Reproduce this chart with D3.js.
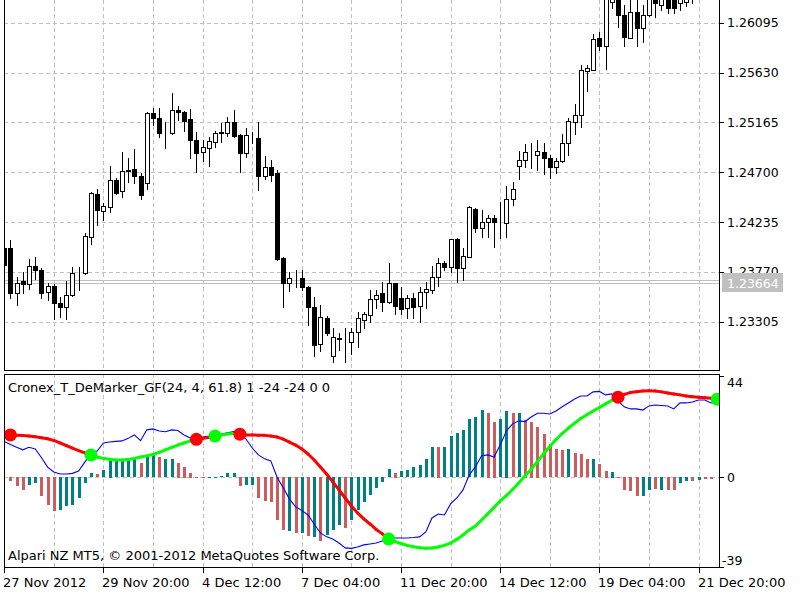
<!DOCTYPE html>
<html><head><meta charset="utf-8">
<script src="https://cdn.jsdelivr.net/npm/d3@7/dist/d3.min.js"></script>
<style>
body{margin:0;background:#fff}
svg{display:block}
text{font-family:"DejaVu Sans",sans-serif;font-size:13px;fill:#000}
text.pr{font-size:12.5px}
</style>
</head><body>
<svg id="c" width="800" height="600"></svg>
<script>
// ---------- DATA (H4 bars, first bar index = -1) ----------
const firstBar = -1;
const opens = [1.23993,1.23993,1.23573,1.23685,1.23657,1.23825,1.23787,1.23582,1.23638,1.23479,
1.23442,1.23554,1.23759,1.23762,1.24095,1.24497,1.24338,1.24375,1.24627,1.24525,
1.24711,1.24730,1.24665,1.24599,1.25252,1.25206,1.25066,1.25062,1.25280,1.25262,
1.25196,1.25000,1.24888,1.24926,1.24982,1.25066,1.25066,1.25168,1.25047,1.24879,
1.25038,1.25019,1.24665,1.24749,1.24693,1.23899,1.23666,1.23713,1.23710,1.23629,
1.23442,1.23097,1.23339,1.22985,1.23153,1.23134,1.23115,1.23209,1.23321,1.23367,
1.23517,1.23573,1.23489,1.23666,1.23526,1.23433,1.23526,1.23451,1.23582,1.23601,
1.23722,1.23853,1.23815,1.24077,1.23806,1.23909,1.24357,1.24179,1.24235,1.24273,
1.24235,1.24226,1.24450,1.24758,1.24814,1.24870,1.24860,1.24888,1.24832,1.24749,
1.24804,1.24972,1.25168,1.25234,1.25644,1.25654,1.25952,1.25878,1.26290,1.26380,
1.26167,1.25952,1.26195,1.26046,1.26167,1.26335,1.26260,1.26326,1.26326,1.26279,
1.26288,1.26330,1.26360,1.26440,1.26470];
const highs = [1.24021,1.24067,1.23722,1.23769,1.23890,1.23909,1.23806,1.23666,1.23657,1.23535,
1.23685,1.23815,1.23815,1.24133,1.24515,1.24543,1.24413,1.24758,1.24646,1.24888,
1.24832,1.24916,1.24693,1.25262,1.25299,1.25299,1.25168,1.25439,1.25318,1.25271,
1.25290,1.25075,1.25000,1.25028,1.25084,1.25159,1.25215,1.25280,1.25056,1.25112,
1.25075,1.25168,1.24851,1.24814,1.24721,1.23909,1.23769,1.23787,1.23787,1.23638,
1.23535,1.23461,1.23358,1.23246,1.23199,1.23246,1.23246,1.23395,1.23395,1.23601,
1.23601,1.23675,1.23853,1.23670,1.23629,1.23554,1.23573,1.23629,1.23675,1.23825,
1.23899,1.23871,1.24080,1.24086,1.23993,1.24385,1.24366,1.24347,1.24301,1.24301,
1.24422,1.24571,1.24609,1.24898,1.24963,1.24972,1.25000,1.24972,1.24860,1.24832,
1.25056,1.25206,1.25337,1.25700,1.25700,1.25990,1.26008,1.26400,1.26420,1.26438,
1.26260,1.26326,1.26335,1.26260,1.26400,1.26400,1.26400,1.26400,1.26382,1.26400,
1.26354,1.26420,1.26494,1.26520,1.26530];
const lows = [1.23787,1.23526,1.23461,1.23573,1.23610,1.23703,1.23526,1.23507,1.23330,1.23349,
1.23330,1.23544,1.23601,1.23750,1.24030,1.24207,1.24254,1.24329,1.24497,1.24469,
1.24609,1.24599,1.24450,1.24543,1.25140,1.25028,1.24926,1.25056,1.25187,1.25084,
1.24832,1.24702,1.24804,1.24758,1.24935,1.24982,1.25038,1.25028,1.24702,1.24842,
1.24972,1.24534,1.24637,1.24618,1.23881,1.23442,1.23591,1.23629,1.23601,1.23274,
1.22985,1.23031,1.23181,1.22929,1.23041,1.22929,1.23003,1.23069,1.23246,1.23302,
1.23433,1.23405,1.23479,1.23377,1.23377,1.23339,1.23339,1.23302,1.23433,1.23573,
1.23638,1.23787,1.23769,1.23675,1.23694,1.23905,1.24142,1.24095,1.24095,1.24002,
1.24086,1.24095,1.24394,1.24637,1.24749,1.24739,1.24721,1.24683,1.24646,1.24693,
1.24795,1.24860,1.25056,1.25122,1.25458,1.25650,1.25840,1.25663,1.26232,1.26055,
1.25878,1.25948,1.25878,1.25915,1.26160,1.26148,1.26214,1.26186,1.26186,1.26214,
1.26251,1.26279,1.26345,1.26400,1.26420];
const closes = [1.23834,1.23573,1.23666,1.23657,1.23825,1.23787,1.23573,1.23638,1.23479,1.23442,
1.23554,1.23759,1.23762,1.24105,1.24506,1.24347,1.24385,1.24627,1.24506,1.24711,
1.24721,1.24665,1.24487,1.25252,1.25206,1.25066,1.25062,1.25280,1.25262,1.25178,
1.25000,1.24879,1.24935,1.24991,1.25066,1.25075,1.25168,1.25038,1.24879,1.25047,
1.25035,1.24665,1.24749,1.24674,1.23890,1.23666,1.23713,1.23710,1.23629,1.23442,
1.23088,1.23349,1.23199,1.23162,1.23144,1.23137,1.23209,1.23339,1.23377,1.23517,
1.23554,1.23489,1.23666,1.23451,1.23423,1.23526,1.23442,1.23582,1.23610,1.23722,
1.23853,1.23815,1.24077,1.23806,1.23918,1.24375,1.24179,1.24235,1.24273,1.24235,
1.24238,1.24450,1.24543,1.24814,1.24888,1.24867,1.24898,1.24832,1.24749,1.24804,
1.24972,1.25178,1.25234,1.25654,1.25672,1.25943,1.25878,1.26330,1.26360,1.26167,
1.25962,1.26195,1.26046,1.26167,1.26344,1.26279,1.26335,1.26232,1.26232,1.26344,
1.26316,1.26360,1.26440,1.26470,1.26450];

const bid = 1.23664, ask = 1.23694;
const priceTicks = [1.26095,1.25630,1.25165,1.24700,1.24235,1.23770,1.23305];

// indicator buffers (bar 0 .. )
const histValues = [-1.9,-4.1,-5.8,-3.3,-2.6,-8.4,-12.0,-14.9,-14.2,-12.5,
-12.0,-9.1,-2.6,1.7,1.4,3.2,7.2,7.5,7.5,7.8,
7.8,6.1,8.7,9.7,8.7,7.8,7.8,6.4,4.6,2.0,
0.3,0.2,0.3,0.3,0.6,1.7,1.7,-4.1,-3.3,-3.3,
-9.1,-10.6,-11.0,-18.5,-23.2,-23.6,-24.4,-24.4,-25.8,-26.1,
-28.0,-25.2,-23.0,-20.9,-22.3,-18.7,-14.3,-10.7,-7.8,-4.9,
-2.0,3.5,2.0,2.8,3.2,4.3,5.4,7.8,13.0,13.3,
13.0,18.0,19.1,20.6,25.2,26.1,29.3,28.1,24.2,25.2,
29.0,27.8,27.8,25.0,24.2,22.0,18.8,14.5,12.2,11.9,
12.2,10.4,10.1,7.8,7.8,5.8,2.9,2.5,-0.6,-5.8,
-6.2,-8.1,-8.1,-5.5,-5.2,-5.5,-5.5,-5.8,-2.6,-1.9,
-1.6,-1.2,-0.9,-0.9];
// 1 = teal colour index, 0 = indian-red colour index
const histColorIdx = [0,0,0,1,1,0,0,0,1,1,
1,1,1,1,0,1,1,1,1,1,
1,0,1,1,0,1,1,0,0,0,
0,0,1,1,1,1,1,0,1,1,
0,0,0,0,0,1,0,1,0,1,
0,1,1,1,0,1,1,1,1,1,
1,1,0,1,1,1,1,1,1,0,
1,1,1,1,1,1,1,0,0,1,
1,0,1,0,0,0,0,0,0,0,
1,0,0,0,1,0,0,1,0,0,
0,0,1,1,0,1,0,0,1,1,
0,1,0,0];
// blue line, bars -1 .. 114
const demarkerValues = [15.5,
14.2,13.0,11.9,13.0,12.3,8.6,4.4,2.3,1.4,1.4,
1.7,2.7,6.6,10.1,11.4,14.9,15.3,15.6,15.8,16.9,
18.4,15.9,20.6,21.0,20.1,19.8,20.6,20.3,18.4,17.1,
16.2,17.5,17.9,18.4,18.8,19.3,19.8,18.4,16.6,12.7,
9.7,8.0,7.1,0.1,-4.6,-9.4,-12.9,-14.4,-16.4,-20.3,
-24.2,-25.9,-26.8,-28.6,-30.7,-30.9,-30.3,-29.4,-29.0,-28.6,
-27.7,-26.8,-26.4,-26.4,-26.4,-26.2,-25.9,-23.8,-17.7,-16.0,
-16.4,-11.6,-9.0,-5.5,1.0,4.5,9.3,9.7,8.8,14.0,
20.1,23.2,24.5,24.2,26.2,27.8,27.8,27.5,28.8,30.6,
32.3,34.0,35.3,35.3,37.1,37.3,35.8,36.2,33.2,30.6,
29.7,29.7,29.2,31.0,31.4,31.2,31.0,29.7,32.3,32.3,
32.7,33.6,33.6,32.3,32.5];
// thick signal line, bars 0 .. 114
const signalValues = [18.4,18.3,18.1,17.9,17.6,17.2,16.7,16.0,14.9,13.8,
12.7,11.6,10.6,9.7,8.8,8.2,7.8,7.5,7.5,7.7,
8.2,8.8,9.3,9.9,10.8,11.9,13.0,14.0,14.9,15.8,
16.5,16.9,17.3,17.9,18.4,18.8,19.0,18.7,18.4,18.4,
18.3,18.2,17.9,17.5,16.6,15.3,14.0,12.3,10.1,7.5,
4.5,1.4,-2.0,-5.5,-9.0,-12.5,-15.5,-18.1,-20.3,-22.7,
-24.6,-26.8,-27.9,-28.8,-29.6,-30.2,-30.6,-30.9,-30.7,-30.3,
-29.6,-28.6,-27.0,-25.1,-22.9,-21.2,-18.6,-15.9,-13.1,-10.3,
-8.0,-5.3,-2.5,0.5,3.5,6.8,10.2,13.4,16.4,19.0,
21.4,23.5,25.5,27.2,28.8,30.3,31.9,33.4,34.8,36.0,
36.8,37.2,37.5,37.6,37.5,37.1,36.6,36.2,35.8,35.3,
35.0,34.8,34.5,34.3,33.9];
// 0 = down (red), 1 = up (green), bars 0 .. 114
const signalState = [0,0,0,0,0,0,0,0,0,0,0,0,0,
1,1,1,1,1,1,1,1,1,1,1,1,1,1,1,1,1,
0,0,0,
1,1,1,1,
0,0,0,0,0,0,0,0,0,0,0,0,0,0,0,0,0,0,0,0,0,0,0,0,
1,1,1,1,1,1,1,1,1,1,1,1,1,1,1,1,1,1,1,1,1,1,1,1,1,1,1,1,1,1,1,1,1,1,1,1,1,
0,0,0,0,0,0,0,0,0,0,0,0,0,0,0,0,
1];
const indTicks = [44, 0, -39];
const timeTickBars = [-1,15,31,47,63,79,95,111];
const timeLabels = ["27 Nov 2012","29 Nov 20:00","4 Dec 12:00","7 Dec 04:00","11 Dec 20:00","14 Dec 12:00","19 Dec 04:00","21 Dec 20:00"];
const gridBars = [7,15,23,31,39,47,55,63,71,79,87,95,103,111];
const indicatorTitle = "Cronex_T_DeMarker_GF(24, 4, 61.8) 1 -24 -24 0 0";
const copyright = "Alpari NZ MT5, \u00A9 2001-2012 MetaQuotes Software Corp.";

// ---------- LAYOUT ----------
const L = 4, R = 719, mainTop = 0, mainBot = 370, indTop = 374, indBot = 567;
const x = d3.scaleLinear().domain([0, 100]).range([10.4, 630.4]);
const yP = d3.scaleLinear().domain([1.23305, 1.26095]).range([321.7, 22.7]);
const yI = d3.scaleLinear().domain([-39, 44]).range([indBot, indTop + 2]);
const cx = i => Math.round(x(i));
const h = v => Math.round(v) + 0.5;

const svg = d3.select('#c');
svg.append('rect').attr('width', 800).attr('height', 600).attr('fill', '#fff');
const defs = svg.append('defs');
defs.append('clipPath').attr('id', 'cm').append('rect')
  .attr('x', L + 1).attr('y', mainTop).attr('width', R - L - 1).attr('height', mainBot - mainTop);
defs.append('clipPath').attr('id', 'ci').append('rect')
  .attr('x', L + 1).attr('y', indTop + 1).attr('width', R - L - 1).attr('height', indBot - indTop - 1);
const tagTop = Math.round(yP(bid)) - 10;
defs.append('clipPath').attr('id', 'ctag').append('rect')
  .attr('x', R).attr('y', 0).attr('width', 81).attr('height', tagTop);

const gridColor = '#c0c0c0', dash = '4,3';

// ---------- MAIN PANEL ----------
const gm = svg.append('g').attr('clip-path', 'url(#cm)');
gm.selectAll('line.hg').data(priceTicks).join('line')
  .attr('x1', L).attr('x2', R).attr('y1', d => h(yP(d))).attr('y2', d => h(yP(d)))
  .attr('stroke', gridColor).attr('stroke-dasharray', dash);
gm.selectAll('line.vg').data(gridBars).join('line')
  .attr('x1', d => cx(d) + 0.5).attr('x2', d => cx(d) + 0.5).attr('y1', mainTop).attr('y2', mainBot)
  .attr('stroke', gridColor).attr('stroke-dasharray', dash);
gm.selectAll('line.ba').data([ask, bid]).join('line')
  .attr('x1', L).attr('x2', R).attr('y1', d => h(yP(d))).attr('y2', d => h(yP(d)))
  .attr('stroke', '#c0c0c0');

const bars = opens.map((o, k) => ({ i: k + firstBar, o, h: highs[k], l: lows[k], c: closes[k] }));
const cg = gm.selectAll('g.cd').data(bars).join('g');
cg.append('line')
  .attr('x1', d => cx(d.i) + 0.5).attr('x2', d => cx(d.i) + 0.5)
  .attr('y1', d => Math.round(yP(d.h))).attr('y2', d => Math.round(yP(d.l)) + 1)
  .attr('stroke', '#000');
cg.append('rect')
  .attr('x', d => cx(d.i) - 1.5).attr('width', 4)
  .attr('y', d => h(yP(Math.max(d.o, d.c))))
  .attr('height', d => Math.max(0, Math.round(yP(Math.min(d.o, d.c))) - Math.round(yP(Math.max(d.o, d.c)))))
  .attr('fill', d => d.c >= d.o ? '#fff' : '#000')
  .attr('stroke', '#000');

// main frame
svg.append('line').attr('x1', L + 0.5).attr('x2', L + 0.5).attr('y1', mainTop).attr('y2', mainBot + 0.5).attr('stroke', '#000');
svg.append('line').attr('x1', R + 0.5).attr('x2', R + 0.5).attr('y1', mainTop).attr('y2', mainBot + 0.5).attr('stroke', '#000');
svg.append('line').attr('x1', L).attr('x2', R + 1).attr('y1', mainBot + 0.5).attr('y2', mainBot + 0.5).attr('stroke', '#000');

// price axis
const pa = svg.append('g');
pa.selectAll('line').data(priceTicks).join('line')
  .attr('x1', R).attr('x2', R + 5).attr('y1', d => h(yP(d))).attr('y2', d => h(yP(d))).attr('stroke', '#000');
pa.selectAll('text').data(priceTicks).join('text').attr('class', 'pr')
  .attr('x', R + 8).attr('y', d => yP(d)).attr('dy', '0.36em')
  .attr('clip-path', d => Math.abs(yP(d) - yP(bid)) < 16 ? 'url(#ctag)' : null)
  .text(d => d3.format('.5f')(d));
// bid tag
svg.append('rect').attr('x', R + 3).attr('y', tagTop).attr('width', 61).attr('height', 19).attr('fill', '#c0c0c0');
svg.append('text').attr('class', 'pr').attr('x', R + 8).attr('y', yP(bid)).attr('dy', '0.36em').style('fill', '#fff').text(d3.format('.5f')(bid));

// ---------- INDICATOR PANEL ----------
const gi = svg.append('g').attr('clip-path', 'url(#ci)');
gi.selectAll('line.vg').data(gridBars).join('line')
  .attr('x1', d => cx(d) + 0.5).attr('x2', d => cx(d) + 0.5).attr('y1', indTop).attr('y2', indBot)
  .attr('stroke', gridColor).attr('stroke-dasharray', dash);
gi.append('line').attr('x1', L).attr('x2', R).attr('y1', h(yI(0))).attr('y2', h(yI(0)))
  .attr('stroke', gridColor).attr('stroke-dasharray', dash);

gi.append('text').attr('x', 8).attr('y', 387).attr('dy', '0.36em').text(indicatorTitle);
gi.append('text').attr('x', 8).attr('y', 555).attr('dy', '0.36em').text(copyright);

const histColors = ['#cd5c5c', '#008080'];
gi.selectAll('rect.hb').data(histValues).join('rect')
  .attr('x', (d, i) => cx(i) - 1).attr('width', 3)
  .attr('y', d => Math.round(Math.min(yI(d), yI(0))))
  .attr('height', d => Math.max(1, Math.round(Math.abs(yI(d) - yI(0)))))
  .attr('fill', (d, i) => histColors[histColorIdx[i]]);

const blue = d3.line().x((d, k) => x(k - 1)).y(d => yI(d));
gi.append('path').attr('d', blue(demarkerValues)).attr('fill', 'none').attr('stroke', '#0000ff').attr('stroke-width', 1.1);

const sigColors = ['#ff0000', '#00ff00'];
const segs = [];
for (let i = 0; i < signalValues.length - 1; i++) segs.push({ i, a: signalValues[i], b: signalValues[i + 1], s: signalState[i] });
gi.selectAll('line.sg').data(segs).join('line')
  .attr('x1', d => x(d.i)).attr('x2', d => x(d.i + 1))
  .attr('y1', d => yI(d.a)).attr('y2', d => yI(d.b))
  .attr('stroke', d => sigColors[d.s]).attr('stroke-width', 3).attr('stroke-linecap', 'round');
const dots = signalValues.map((v, i) => ({ i, v, s: signalState[i] }))
  .filter(d => d.i === 0 || signalState[d.i] !== signalState[d.i - 1]);
gi.selectAll('circle').data(dots).join('circle')
  .attr('cx', d => x(d.i)).attr('cy', d => yI(d.v)).attr('r', 6.5)
  .attr('fill', d => sigColors[d.s]);

// indicator frame
svg.append('rect').attr('x', L + 0.5).attr('y', indTop + 0.5).attr('width', R - L).attr('height', indBot - indTop)
  .attr('fill', 'none').attr('stroke', '#000');
const ia = svg.append('g');
ia.selectAll('line').data(indTicks).join('line')
  .attr('x1', R).attr('x2', R + 5).attr('y1', d => h(yI(d))).attr('y2', d => h(yI(d))).attr('stroke', '#000');
ia.selectAll('text').data(indTicks).join('text').attr('class', 'pr')
  .attr('x', d => d < 0 ? R + 3 : R + 8)
  .attr('y', d => d === 44 ? yI(d) + 6 : (d === -39 ? yI(d) - 7 : yI(d)))
  .attr('dy', '0.36em').text(d => d);

// time axis
const ta = svg.append('g');
ta.selectAll('line').data(timeTickBars).join('line')
  .attr('x1', d => cx(d) + 0.5).attr('x2', d => cx(d) + 0.5).attr('y1', indBot).attr('y2', indBot + 6).attr('stroke', '#000');
ta.selectAll('text').data(timeTickBars).join('text')
  .attr('x', d => Math.max(3, cx(d) - 1)).attr('y', 582).attr('dy', '0.36em')
  .text((d, k) => timeLabels[k]);
</script>
</body></html>
